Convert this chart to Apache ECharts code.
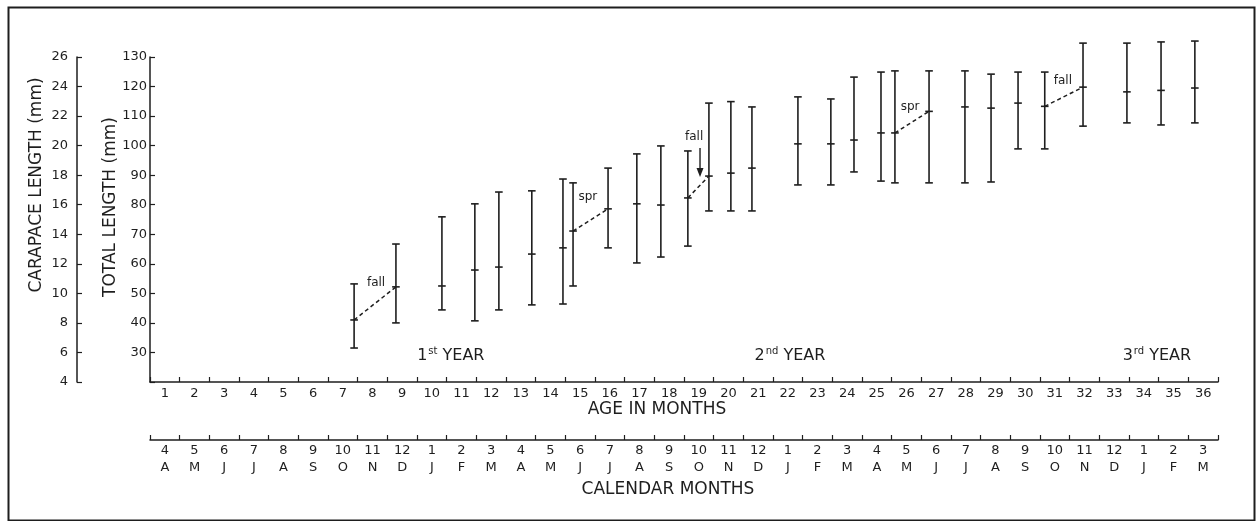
<!DOCTYPE html>
<html><head><meta charset="utf-8">
<script src="https://cdn.jsdelivr.net/npm/echarts@6/dist/echarts.min.js"></script>
<style>html,body{margin:0;padding:0;background:#fff}#c{width:1256px;height:521px}</style>
</head><body><div id="c"></div>
<script>
// ---------- data ----------
const ageLabels = ['1','2','3','4','5','6','7','8','9','10','11','12','13','14','15','16','17','18',
  '19','20','21','22','23','24','25','26','27','28','29','30','31','32','33','34','35','36'];
const calMonthNums = ['4','5','6','7','8','9','10','11','12','1','2','3',
  '4','5','6','7','8','9','10','11','12','1','2','3',
  '4','5','6','7','8','9','10','11','12','1','2','3'];
const calMonthLetters = ['A','M','J','J','A','S','O','N','D','J','F','M',
  'A','M','J','J','A','S','O','N','D','J','F','M',
  'A','M','J','J','A','S','O','N','D','J','F','M'];
// age (months, on the age axis), total length (mm): low / mean / high
const barAge  = [7.38, 8.79, 10.34, 11.45, 12.26, 13.37, 14.42, 14.76, 15.94, 16.91, 17.72, 18.63,
  19.34, 20.08, 20.79, 22.34, 23.45, 24.23, 25.14, 25.61, 26.76, 27.97, 28.85, 29.76, 30.66,
  31.95, 33.43, 34.58, 35.72];
const barLow  = [31.5, 40.0, 44.4, 40.7, 44.4, 46.1, 46.4, 52.5, 65.4, 60.3, 62.3, 66.0,
  77.9, 77.9, 77.9, 86.7, 86.7, 91.1, 88.0, 87.4, 87.4, 87.4, 87.7, 98.9, 98.9,
  106.6, 107.7, 107.0, 107.7];
const barMean = [41.0, 52.2, 52.5, 57.9, 58.9, 63.3, 65.4, 71.1, 78.6, 80.3, 79.9, 82.3,
  89.7, 90.7, 92.4, 100.6, 100.6, 101.9, 104.3, 104.3, 111.6, 113.1, 112.7, 114.4, 113.3,
  119.8, 118.2, 118.7, 119.5];
const barHigh = [53.2, 66.7, 75.9, 80.3, 84.3, 84.7, 88.7, 87.4, 92.4, 97.2, 99.9, 98.2,
  114.4, 114.9, 113.1, 116.5, 115.8, 123.2, 124.9, 125.3, 125.3, 125.3, 124.2, 124.9, 124.9,
  134.7, 134.7, 135.1, 135.4];
// dashed links between means (bar indices)
const linkFrom = [0, 7, 11, 19, 24];
const linkTo   = [1, 8, 12, 20, 25];
// season notes
const noteText = ['fall', 'spr', 'fall', 'spr', 'fall'];
const noteAge  = [8.12, 15.26, 18.84, 26.12, 31.27];
const noteLen  = [53.5, 82.6, 102.9, 113.1, 121.9];
// arrow (age, from length, to length)
const arrowAge = [19.04];
const arrowFrom = [99.2];
const arrowTo = [89.4];
// year labels
const yearNum = ['1', '2', '3'];
const yearSup = ['st', 'nd', 'rd'];
const yearAge = [10.64, 22.07, 34.44];
const yearLen = [28.8, 28.8, 28.8];

// ---------- chart ----------
const FONT = 'DejaVu Sans';
const INK = '#1e1e1e';
const chart = echarts.init(document.getElementById('c'), null, {renderer: 'canvas'});

const catAxisBase = {
  type: 'category', position: 'bottom', boundaryGap: true,
  axisLine: {show: true, lineStyle: {color: INK, width: 1.5}},
  axisTick: {show: true, inside: true, length: 5, interval: 0, lineStyle: {color: INK, width: 1.2}},
  splitLine: {show: false}
};

const series = [];
series.push({
  type: 'custom', name: 'range', xAxisIndex: 0, yAxisIndex: 0, clip: false, silent: true,
  data: barAge.map((a, i) => [a, barLow[i], barMean[i], barHigh[i]]),
  encode: {x: 0, y: [1, 2, 3]},
  renderItem: function (params, api) {
    const pl = api.coord([api.value(0), api.value(1)]);
    const pm = api.coord([api.value(0), api.value(2)]);
    const ph = api.coord([api.value(0), api.value(3)]);
    const x = pl[0], w = 3.8;
    const st = {stroke: INK, lineWidth: 1.6};
    return {type: 'group', children: [
      {type: 'line', shape: {x1: x, y1: ph[1], x2: x, y2: pl[1]}, style: st},
      {type: 'line', shape: {x1: x - w, y1: ph[1], x2: x + w, y2: ph[1]}, style: st},
      {type: 'line', shape: {x1: x - w, y1: pl[1], x2: x + w, y2: pl[1]}, style: st},
      {type: 'line', shape: {x1: x - w, y1: pm[1], x2: x + w, y2: pm[1]}, style: st}
    ]};
  }
});
linkFrom.forEach((a, k) => {
  const b = linkTo[k];
  series.push({
    type: 'line', xAxisIndex: 0, yAxisIndex: 0, silent: true, symbol: 'none',
    data: [[barAge[a], barMean[a]], [barAge[b], barMean[b]]],
    lineStyle: {color: INK, width: 1.5, type: [4, 3]}
  });
});
// text annotations drawn as custom text elements anchored at data coordinates
series.push({
  type: 'custom', xAxisIndex: 0, yAxisIndex: 0, clip: false, silent: true,
  data: noteText.map((t, i) => [noteAge[i], noteLen[i], t]),
  encode: {x: 0, y: 1},
  renderItem: function (params, api) {
    const p = api.coord([api.value(0), api.value(1)]);
    return {type: 'text', x: p[0], y: p[1],
      style: {text: noteText[params.dataIndex], fontFamily: FONT, fontSize: 12, fill: INK,
        align: 'center', verticalAlign: 'middle'}};
  }
});
series.push({
  type: 'custom', xAxisIndex: 0, yAxisIndex: 0, clip: false, silent: true,
  data: yearNum.map((n, i) => [yearAge[i], yearLen[i]]),
  encode: {x: 0, y: 1},
  renderItem: function (params, api) {
    const p = api.coord([api.value(0), api.value(1)]);
    const i = params.dataIndex;
    return {type: 'text', x: p[0], y: p[1],
      style: {text: '{n|' + yearNum[i] + '}{s|' + yearSup[i] + '}{y| YEAR}',
        align: 'center', verticalAlign: 'middle',
        rich: {
          n: {fontFamily: FONT, fontSize: 16, fill: INK},
          s: {fontFamily: FONT, fontSize: 10, fill: INK, padding: [0, 0, 9, 1]},
          y: {fontFamily: FONT, fontSize: 16, fill: INK}
        }}};
  }
});
series.push({
  type: 'custom', xAxisIndex: 0, yAxisIndex: 0, clip: false, silent: true,
  data: arrowAge.map((a, i) => [a, arrowFrom[i], arrowTo[i]]),
  encode: {x: 0, y: [1, 2]},
  renderItem: function (params, api) {
    const p1 = api.coord([api.value(0), api.value(1)]);
    const p2 = api.coord([api.value(0), api.value(2)]);
    return {type: 'group', children: [
      {type: 'line', shape: {x1: p1[0], y1: p1[1], x2: p2[0], y2: p2[1] - 6}, style: {stroke: INK, lineWidth: 1.4}},
      {type: 'polygon', shape: {points: [[p2[0] - 3.5, p2[1] - 9], [p2[0] + 3.5, p2[1] - 9], [p2[0], p2[1]]]}, style: {fill: INK}}
    ]};
  }
});

const option = {
  animation: false,
  backgroundColor: '#fff',
  textStyle: {fontFamily: FONT, color: INK},
  grid: {left: 150, right: 38, top: 57, bottom: 139, containLabel: false},
  xAxis: [
    {type: 'value', min: 0.5, max: 36.5, show: false},
    Object.assign({}, catAxisBase, {
      data: ageLabels, offset: 0,
      axisLabel: {interval: 0, fontFamily: FONT, fontSize: 13, color: INK, margin: 5}
    }),
    Object.assign({}, catAxisBase, {
      data: calMonthNums.map((n, i) => n + '\n' + calMonthLetters[i]), offset: 58,
      axisLabel: {interval: 0, fontFamily: FONT, fontSize: 13, lineHeight: 17, color: INK, margin: 2}
    })
  ],
  yAxis: [
    {type: 'value', min: 20, max: 130, interval: 10, position: 'left', offset: 0,
      axisLine: {show: true, lineStyle: {color: INK, width: 1.5}},
      axisTick: {show: true, inside: true, length: 5, lineStyle: {color: INK, width: 1.2}},
      axisLabel: {formatter: v => (v === 20 ? '' : String(v)), fontFamily: FONT, fontSize: 13, color: INK, margin: 3},
      splitLine: {show: false}},
    {type: 'value', min: 4, max: 26, interval: 2, position: 'left', offset: 73,
      axisLine: {show: true, lineStyle: {color: INK, width: 1.5}},
      axisTick: {show: true, inside: true, length: 5, lineStyle: {color: INK, width: 1.2}},
      axisLabel: {fontFamily: FONT, fontSize: 13, color: INK, margin: 9},
      splitLine: {show: false}}
  ],
  graphic: [
    {type: 'rect', left: 6, top: 5, shape: {x: 0, y: 0, width: 1246, height: 513},
      style: {fill: 'none', stroke: INK, lineWidth: 2}, silent: true},
    {type: 'text', x: 37, y: 185, rotation: Math.PI / 2,
      style: {text: 'CARAPACE LENGTH (mm)', fontFamily: FONT, fontSize: 17, fill: INK, align: 'center', verticalAlign: 'middle'}},
    {type: 'text', x: 111, y: 207, rotation: Math.PI / 2,
      style: {text: 'TOTAL LENGTH (mm)', fontFamily: FONT, fontSize: 17, fill: INK, align: 'center', verticalAlign: 'middle'}},
    {type: 'text', x: 657, y: 410,
      style: {text: 'AGE IN MONTHS', fontFamily: FONT, fontSize: 17, fill: INK, align: 'center', verticalAlign: 'middle'}},
    {type: 'text', x: 668, y: 490,
      style: {text: 'CALENDAR MONTHS', fontFamily: FONT, fontSize: 17, fill: INK, align: 'center', verticalAlign: 'middle'}}
  ],
  series: series
};
chart.setOption(option);
</script>
</body></html>
